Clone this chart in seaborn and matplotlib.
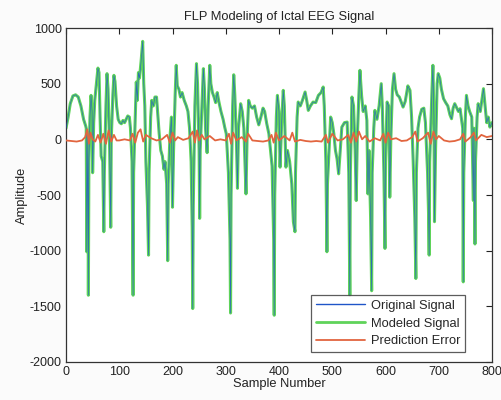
import numpy as np
import pandas as pd
import matplotlib
matplotlib.use("Agg")
import matplotlib.pyplot as plt
from matplotlib.lines import Line2D
import seaborn as sns

# Signal key samples (sample index, amplitude)
sig_x = [0, 4, 8, 13, 18, 23, 28, 33, 37, 38, 39, 40, 41, 42, 43, 45, 47, 49, 50, 52, 54, 57, 60, 62, 64, 66,
         69, 71, 72, 75, 77, 79, 82, 84, 85, 88, 90, 92, 95, 98, 101, 104, 107, 110, 113, 116, 119, 121,
         124, 126, 127, 130, 132, 134, 136, 138, 141, 144, 146, 148, 150, 153, 155, 156, 159, 161, 164, 167,
         170, 172, 175, 178, 181, 184, 186, 189, 191, 192, 195, 198, 200, 202, 205, 207, 209, 212, 215, 218,
         222, 226, 229, 232, 235, 237, 238, 239, 242, 245, 247, 250, 251, 252, 256, 258, 260, 262, 265, 267,
         270, 272, 275, 278, 281, 284, 287, 291, 295, 298, 301, 305, 308, 309, 310, 313, 315, 317, 320, 322,
         324, 328, 331, 334, 336, 338, 340, 343, 346, 350, 354, 358, 362, 366, 370, 373, 377, 381, 384, 387,
         390, 391, 392, 395, 397, 400, 402, 405, 408, 410, 413, 416, 420, 424, 427, 430, 431, 434, 436, 440,
         444, 449, 452, 455, 459, 464, 469, 474, 479, 483, 485, 488, 490, 491, 494, 497, 500, 503, 506, 509,
         512, 515, 518, 523, 528, 531, 533, 534, 537, 540, 543, 545, 547, 550, 552, 555, 558, 562, 565, 567,
         569, 572, 574, 575, 578, 580, 584, 588, 592, 594, 597, 599, 600, 603, 606, 608, 610, 613, 616, 619,
         622, 626, 630, 633, 637, 642, 646, 649, 652, 655, 657, 658, 661, 664, 668, 672, 675, 679, 681, 682,
         683, 687, 689, 691, 692, 694, 697, 699, 702, 705, 709, 713, 717, 721, 724, 727, 730, 734, 737, 740,
         745, 746, 747, 750, 752, 755, 758, 762, 765, 766, 768, 769, 772, 774, 778, 781, 784, 787, 790, 793,
         796, 800]
sig_y = [100, 200, 320, 390, 400, 380, 300, 180, 120, 100, -1010, -400, 60, -1400, -200, 200, 395, 250, -300, 150, 350, 500, 640, 600, 200, -150,
         -200, -830, -300, 300, 590, 450, -100, -790, 0, 400, 575, 520, 300, 180, 150, 140, 170, 150, 180, 210, 200, 100,
         -200, -1400, -300, 200, 515, 350, 600, 550, 700, 880, 500, 300, -200, -600, -1040, -300, 200, 350, 300, 380,
         380, 250, 50, -100, -150, -270, -200, -400, -1090, -400, 0, 200, -610, -100, 400, 665, 480, 450, 380, 420,
         350, 300, 250, 100, -200, -800, -1520, -600, 300, 680, 500, -100, -710, -100, 400, 635, 450, 100, -120, 300,
         665, 500, 420, 380, 330, 420, 340, 250, 180, 110, 50, -300, -900, -1560, -500, 300, 580, 400, 0, -440,
         100, 320, 250, 100, -200, -490, 0, 350, 300, 280, 300, 200, 130, 200, 280, 250, 140, 50, -100, -240,
         -900, -1580, -500, 200, 395, 250, -250, 150, 440, 300, -250, -100, -200, -400, -740, -830, -300, 200, 335, 300,
         350, 425, 350, 260, 300, 335, 330, 395, 420, 470, 300, -200, -1010, -400, -100, 200, 150, 50, -100, -175,
         -310, -100, 110, 150, 155, -300, -1400, -300, 380, 300, -100, -550, 0, 400, 620, 400, 250, 300, 170, -490,
         -100, -700, -1360, -300, 100, 260, 180, 300, 500, 300, -300, -980, -200, 335, 300, -520, 0, 450, 590, 450,
         400, 380, 330, 290, 340, 480, 440, 200, -200, -700, -1250, -300, 100, 200, 270, 280, 150, -300, -700, -1040,
         -200, 400, 665, 200, -740, -100, 500, 590, 550, 450, 365, 330, 300, 220, 185, 280, 320, 280, 250, 275,
         100, -1280, -300, 200, 395, 300, 250, 200, -550, 100, -940, -200, 200, 320, 250, 350, 455, 300, 150, 200,
         110, 150]

# Modeled signal follows the original closely (same key samples)
mod_y = sig_y

# Prediction error key samples
err_x = [0, 10, 20, 30, 36, 40, 43, 46, 50, 55, 60, 65, 70, 75, 80, 85, 90, 95, 100, 110, 120, 125, 130, 135,
         140, 145, 150, 160, 170, 180, 190, 195, 200, 205, 210, 220, 230, 238, 242, 246, 250, 255, 260, 270,
         280, 290, 300, 306, 310, 314, 320, 330, 338, 342, 350, 360, 370, 380, 386, 390, 394, 400, 410, 420,
         425, 430, 440, 450, 460, 470, 480, 488, 492, 500, 510, 520, 530, 535, 540, 545, 550, 556, 562, 570,
         580, 590, 596, 600, 605, 610, 620, 630, 640, 650, 656, 660, 670, 680, 685, 690, 695, 700, 710, 720,
         730, 740, 746, 750, 760, 766, 770, 780, 790, 800]
err_y = [-10, -15, -20, -10, 20, 90, -40, 60, 0, -20, 40, -30, 50, -40, 80, -20, 40, -10, -10, 0, -10, 50, -30, 60,
         90, -20, 40, 10, -10, 0, 40, -30, 60, -10, 20, -5, 10, 70, -30, 80, -10, 40, 0, 30,
         -10, 0, -10, 50, -40, 60, -10, 20, -20, 50, -10, -15, -20, -10, 40, -30, 60, -10, 30, -10,
         60, -20, -5, -15, -20, -15, -20, 40, -30, 50, -10, 0, 40, -30, 60, -20, 70, 0, 30, -20,
         10, -10, 50, -30, 60, 0, 10, -15, -10, 20, 70, -20, 10, 60, -40, 70, 0, 30, -10, -20,
         -15, 0, 50, -20, 20, 60, -10, 40, 20, 30]

x_ticks = [0, 100, 200, 300, 400, 500, 600, 700, 800]
y_ticks = [-2000, -1500, -1000, -500, 0, 500, 1000]

sns.set_style("white")
plt.rcParams['font.family'] = ['Liberation Sans', 'DejaVu Sans']
plt.rcParams['axes.unicode_minus'] = False

fig = plt.figure(figsize=(5.01, 4.0), dpi=100)
fig.patch.set_facecolor('#fbfbfb')
ax = fig.add_axes([66/501, 1 - 362/400, (492 - 66)/501, (362 - 28)/400])

df_sig = pd.DataFrame({"x": sig_x, "orig": sig_y, "mod": mod_y})
df_err = pd.DataFrame({"x": err_x, "err": err_y})

sns.lineplot(data=df_sig, x="x", y="mod", ax=ax, color="#5fd35a", lw=2.2,
             estimator=None, sort=False, zorder=2)
sns.lineplot(data=df_sig, x="x", y="orig", ax=ax, color="#1f55c8", lw=0.5, alpha=0.8,
             estimator=None, sort=False, zorder=3)
sns.lineplot(data=df_err, x="x", y="err", ax=ax, color="#e2653f", lw=1.3,
             estimator=None, sort=False, zorder=4)

ax.set_xlim(0, 800)
ax.set_ylim(-2000, 1000)
ax.set_xticks(x_ticks)
ax.set_yticks(y_ticks)
ax.tick_params(direction='in', length=4, width=0.8, top=True, right=True,
               labelsize=9, colors='#222222', pad=3)
for s in ax.spines.values():
    s.set_color('#333333')
    s.set_linewidth(0.9)

ax.set_title("FLP Modeling of Ictal EEG Signal", fontsize=9.3, color='#222222', pad=6)
ax.set_xlabel("Sample Number", fontsize=9.3, color='#222222', labelpad=0)
ax.set_ylabel("Amplitude", fontsize=9.3, color='#222222', labelpad=1)

leg_handles = [Line2D([], [], color="#1f55c8", lw=1.0),
               Line2D([], [], color="#5fd35a", lw=2.0),
               Line2D([], [], color="#e2653f", lw=1.3)]
leg = ax.legend(leg_handles, ["Original Signal", "Modeled Signal", "Prediction Error"],
                loc='lower right', bbox_to_anchor=(0.937, 0.03), fontsize=9.3, frameon=True,
                fancybox=False, edgecolor='#333333', handlelength=3.8, handletextpad=0.5,
                borderpad=0.35, labelspacing=0.45, borderaxespad=0.0)
leg.get_frame().set_linewidth(0.9)

fig.savefig("out.png", dpi=100, facecolor=fig.get_facecolor())
